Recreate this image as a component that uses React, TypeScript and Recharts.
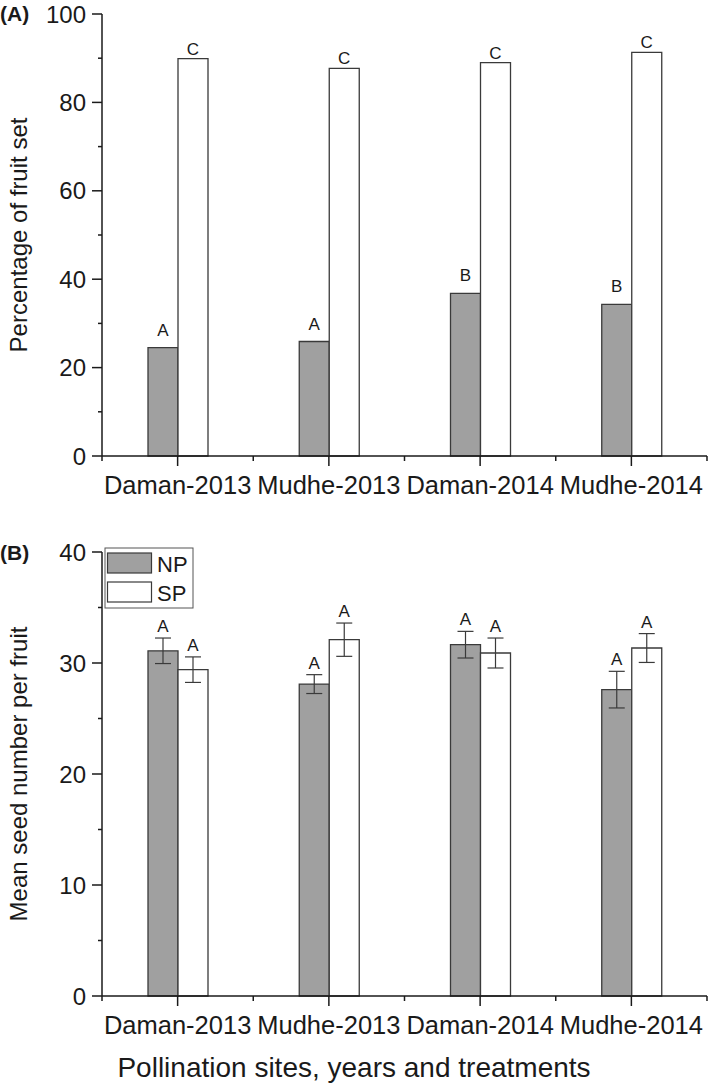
import React from 'react';
import { BarChart, Bar, XAxis, YAxis, ErrorBar, LabelList } from 'recharts';

const categories = ['Daman-2013', 'Mudhe-2013', 'Daman-2014', 'Mudhe-2014'];

// (A) fruit set, %
const fruitSetNP = [24.5, 25.9, 36.8, 34.3];
const fruitSetSP = [89.9, 87.7, 89.0, 91.3];
const fruitLettersNP = ['A', 'A', 'B', 'B'];
const fruitLettersSP = ['C', 'C', 'C', 'C'];

// (B) seeds per fruit
const seedNP = [31.1, 28.1, 31.65, 27.6];
const seedNPErr = [1.15, 0.85, 1.2, 1.65];
const seedSP = [29.4, 32.1, 30.9, 31.35];
const seedSPErr = [1.15, 1.5, 1.35, 1.3];
const seedLettersNP = ['A', 'A', 'A', 'A'];
const seedLettersSP = ['A', 'A', 'A', 'A'];

const fruitTicks = [0, 10, 20, 30, 40, 50, 60, 70, 80, 90, 100];
const seedTicks = [0, 5, 10, 15, 20, 25, 30, 35, 40];

const FONT = '"Liberation Sans", Arial, Helvetica, sans-serif';
const INK = '#1a1a1a';
const EDGE = '#3a3a3a';
const NP_FILL = '#a0a0a0';

const fruitData = categories.map((name, i) => ({
  name,
  np: fruitSetNP[i],
  sp: fruitSetSP[i],
  npLetter: fruitLettersNP[i],
  spLetter: fruitLettersSP[i],
}));

const seedData = categories.map((name, i) => ({
  name,
  np: seedNP[i],
  npErr: seedNPErr[i],
  sp: seedSP[i],
  spErr: seedSPErr[i],
  npLetter: seedLettersNP[i],
  spLetter: seedLettersSP[i],
}));

const makeYTick = (labelEvery: number) => (props: any) => {
  const { x, y, payload } = props;
  const major = payload.value % labelEvery === 0;
  return (
    <g>
      <line x1={x} x2={x - (major ? 10 : 4)} y1={y} y2={y} stroke={INK} strokeWidth={1.5} />
      {major && (
        <text x={x - 16} y={y} dy={8.5} textAnchor="end" fontSize={24} fontFamily={FONT} fill={INK}>
          {payload.value}
        </text>
      )}
    </g>
  );
};

const XTick = (props: any) => {
  const { x, y, payload } = props;
  const off = payload.offset;
  return (
    <g>
      <line x1={x} x2={x} y1={y} y2={y + 10} stroke={INK} strokeWidth={1.5} />
      {off != null && <line x1={x - off} x2={x - off} y1={y} y2={y + 5} stroke={INK} strokeWidth={1.5} />}
      {off != null && payload.index === categories.length - 1 && (
        <line x1={x + off} x2={x + off} y1={y} y2={y + 5} stroke={INK} strokeWidth={1.5} />
      )}
      <text x={x} y={y + 38} textAnchor="middle" fontSize={25.5} fontFamily={FONT} fill={INK}>
        {payload.value}
      </text>
    </g>
  );
};

// letter above the bar, or above the error bar when there is one
const makeLetter = (gap: number, values?: number[], errs?: number[]) => (props: any) => {
  const { x, y, width, height, value, index } = props;
  let top = y;
  if (values && errs) {
    top = y - (height / values[index]) * errs[index];
  }
  return (
    <text x={x + width / 2} y={top - gap} textAnchor="middle" fontSize={17} fontFamily={FONT} fill={INK}>
      {value}
    </text>
  );
};

const axisLine = { stroke: INK, strokeWidth: 1.5 };

export default function App() {
  return (
    <div style={{ position: 'absolute', left: 0, top: 0, width: 709, height: 1087, background: '#fff' }}>
      <div style={{ position: 'absolute', left: 0, top: 0 }}>
        <BarChart
          width={709}
          height={510}
          data={fruitData}
          margin={{ top: 14, right: 2, left: 0, bottom: 0 }}
          barGap={0}
          barSize={30}
        >
          <XAxis dataKey="name" height={54} axisLine={axisLine} tickLine={false} tickSize={0} tickMargin={0} tick={XTick} interval={0} />
          <YAxis width={102} domain={[0, 100]} ticks={fruitTicks} axisLine={axisLine} tickLine={false} tickSize={0} tickMargin={0} tick={makeYTick(20)} interval={0} />
          <Bar dataKey="np" fill={NP_FILL} stroke={EDGE} strokeWidth={1.3} isAnimationActive={false}>
            <LabelList dataKey="npLetter" content={makeLetter(12)} />
          </Bar>
          <Bar dataKey="sp" fill="#ffffff" stroke={EDGE} strokeWidth={1.3} isAnimationActive={false}>
            <LabelList dataKey="spLetter" content={makeLetter(4)} />
          </Bar>
        </BarChart>
      </div>
      <div style={{ position: 'absolute', left: 0, top: 510 }}>
        <BarChart
          width={709}
          height={577}
          data={seedData}
          margin={{ top: 42, right: 2, left: 0, bottom: 0 }}
          barGap={0}
          barSize={30}
        >
          <XAxis dataKey="name" height={91} axisLine={axisLine} tickLine={false} tickSize={0} tickMargin={0} tick={XTick} interval={0} />
          <YAxis width={102} domain={[0, 40]} ticks={seedTicks} axisLine={axisLine} tickLine={false} tickSize={0} tickMargin={0} tick={makeYTick(10)} interval={0} />
          <Bar dataKey="np" fill={NP_FILL} stroke={EDGE} strokeWidth={1.3} isAnimationActive={false}>
            <ErrorBar dataKey="npErr" width={8} stroke={EDGE} strokeWidth={1.2} />
            <LabelList dataKey="npLetter" content={makeLetter(6, seedNP, seedNPErr)} />
          </Bar>
          <Bar dataKey="sp" fill="#ffffff" stroke={EDGE} strokeWidth={1.3} isAnimationActive={false}>
            <ErrorBar dataKey="spErr" width={8} stroke={EDGE} strokeWidth={1.2} />
            <LabelList dataKey="spLetter" content={makeLetter(6, seedSP, seedSPErr)} />
          </Bar>
        </BarChart>
      </div>
      <svg width={709} height={1087} style={{ position: 'absolute', left: 0, top: 0, pointerEvents: 'none' }}>
        <text x={0} y={21} fontSize={21} fontWeight="bold" fontFamily={FONT} fill={INK}>(A)</text>
        <text x={0} y={560} fontSize={21} fontWeight="bold" fontFamily={FONT} fill={INK}>(B)</text>
        <text transform="translate(27,235) rotate(-90)" textAnchor="middle" fontSize={24} fontFamily={FONT} fill={INK}>
          Percentage of fruit set
        </text>
        <text transform="translate(27,774) rotate(-90)" textAnchor="middle" fontSize={24} fontFamily={FONT} fill={INK}>
          Mean seed number per fruit
        </text>
        <text x={354} y={1077} textAnchor="middle" fontSize={28} fontFamily={FONT} fill={INK}>
          Pollination sites, years and treatments
        </text>
        <g>
          <rect x={105} y={548} width={88} height={60} fill="#fff" stroke="#555" strokeWidth={1} />
          <rect x={107.5} y={553} width={44} height={20} fill={NP_FILL} stroke={EDGE} strokeWidth={1.2} />
          <rect x={107.5} y={582} width={44} height={20} fill="#fff" stroke={EDGE} strokeWidth={1.2} />
          <text x={157} y={572} fontSize={22} fontFamily={FONT} fill={INK}>NP</text>
          <text x={157} y={601} fontSize={22} fontFamily={FONT} fill={INK}>SP</text>
        </g>
      </svg>
    </div>
  );
}
